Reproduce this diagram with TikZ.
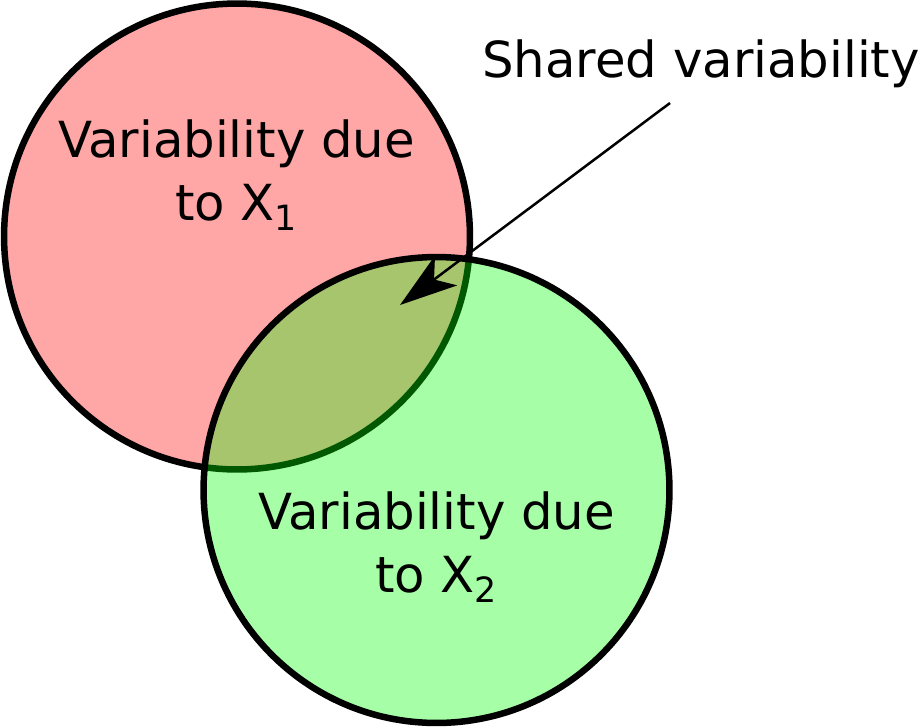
\documentclass[tikz,border=0pt]{standalone}
\usepackage{fontspec}
\setmainfont{DejaVu Sans}
\usetikzlibrary{arrows.meta}
\definecolor{pinkfill}{RGB}{255,166,166}

\begin{document}
\begin{tikzpicture}[x=0.02cm, y=-0.02cm,
  set/.style = {line width=0.13cm},
  lbl/.style = {align=center, inner sep=0pt, anchor=base,
        font=\fontsize{28.3}{35.7}\selectfont}]
 \useasboundingbox (0,0) rectangle (922,727);
 \coordinate (c1) at (237,236.5);
 \coordinate (c2) at (436.5,490);

 % the two sets
 \draw[set, fill=pinkfill] (c1) circle[radius=4.66cm];
 \draw[set, fill=green, fill opacity=0.35] (c2) circle[radius=4.66cm];

 % base is the last line
 \node[lbl] (x1) at (236.5,220) {Variability due\\ to X\textsubscript{1}};
 \node[lbl] (x2) at (436.5,592) {Variability due\\ to X\textsubscript{2}};
 \node[lbl] (shared) at (701,77) {Shared variability};

 \coordinate (tail) at (670,103);
 \coordinate (overlap) at (400,305);
 \draw[line width=0.05cm,
       -{Stealth[length=1.15cm, width=0.74cm, inset=0.3cm]}] (tail) -- (overlap);
\end{tikzpicture}
\end{document}
